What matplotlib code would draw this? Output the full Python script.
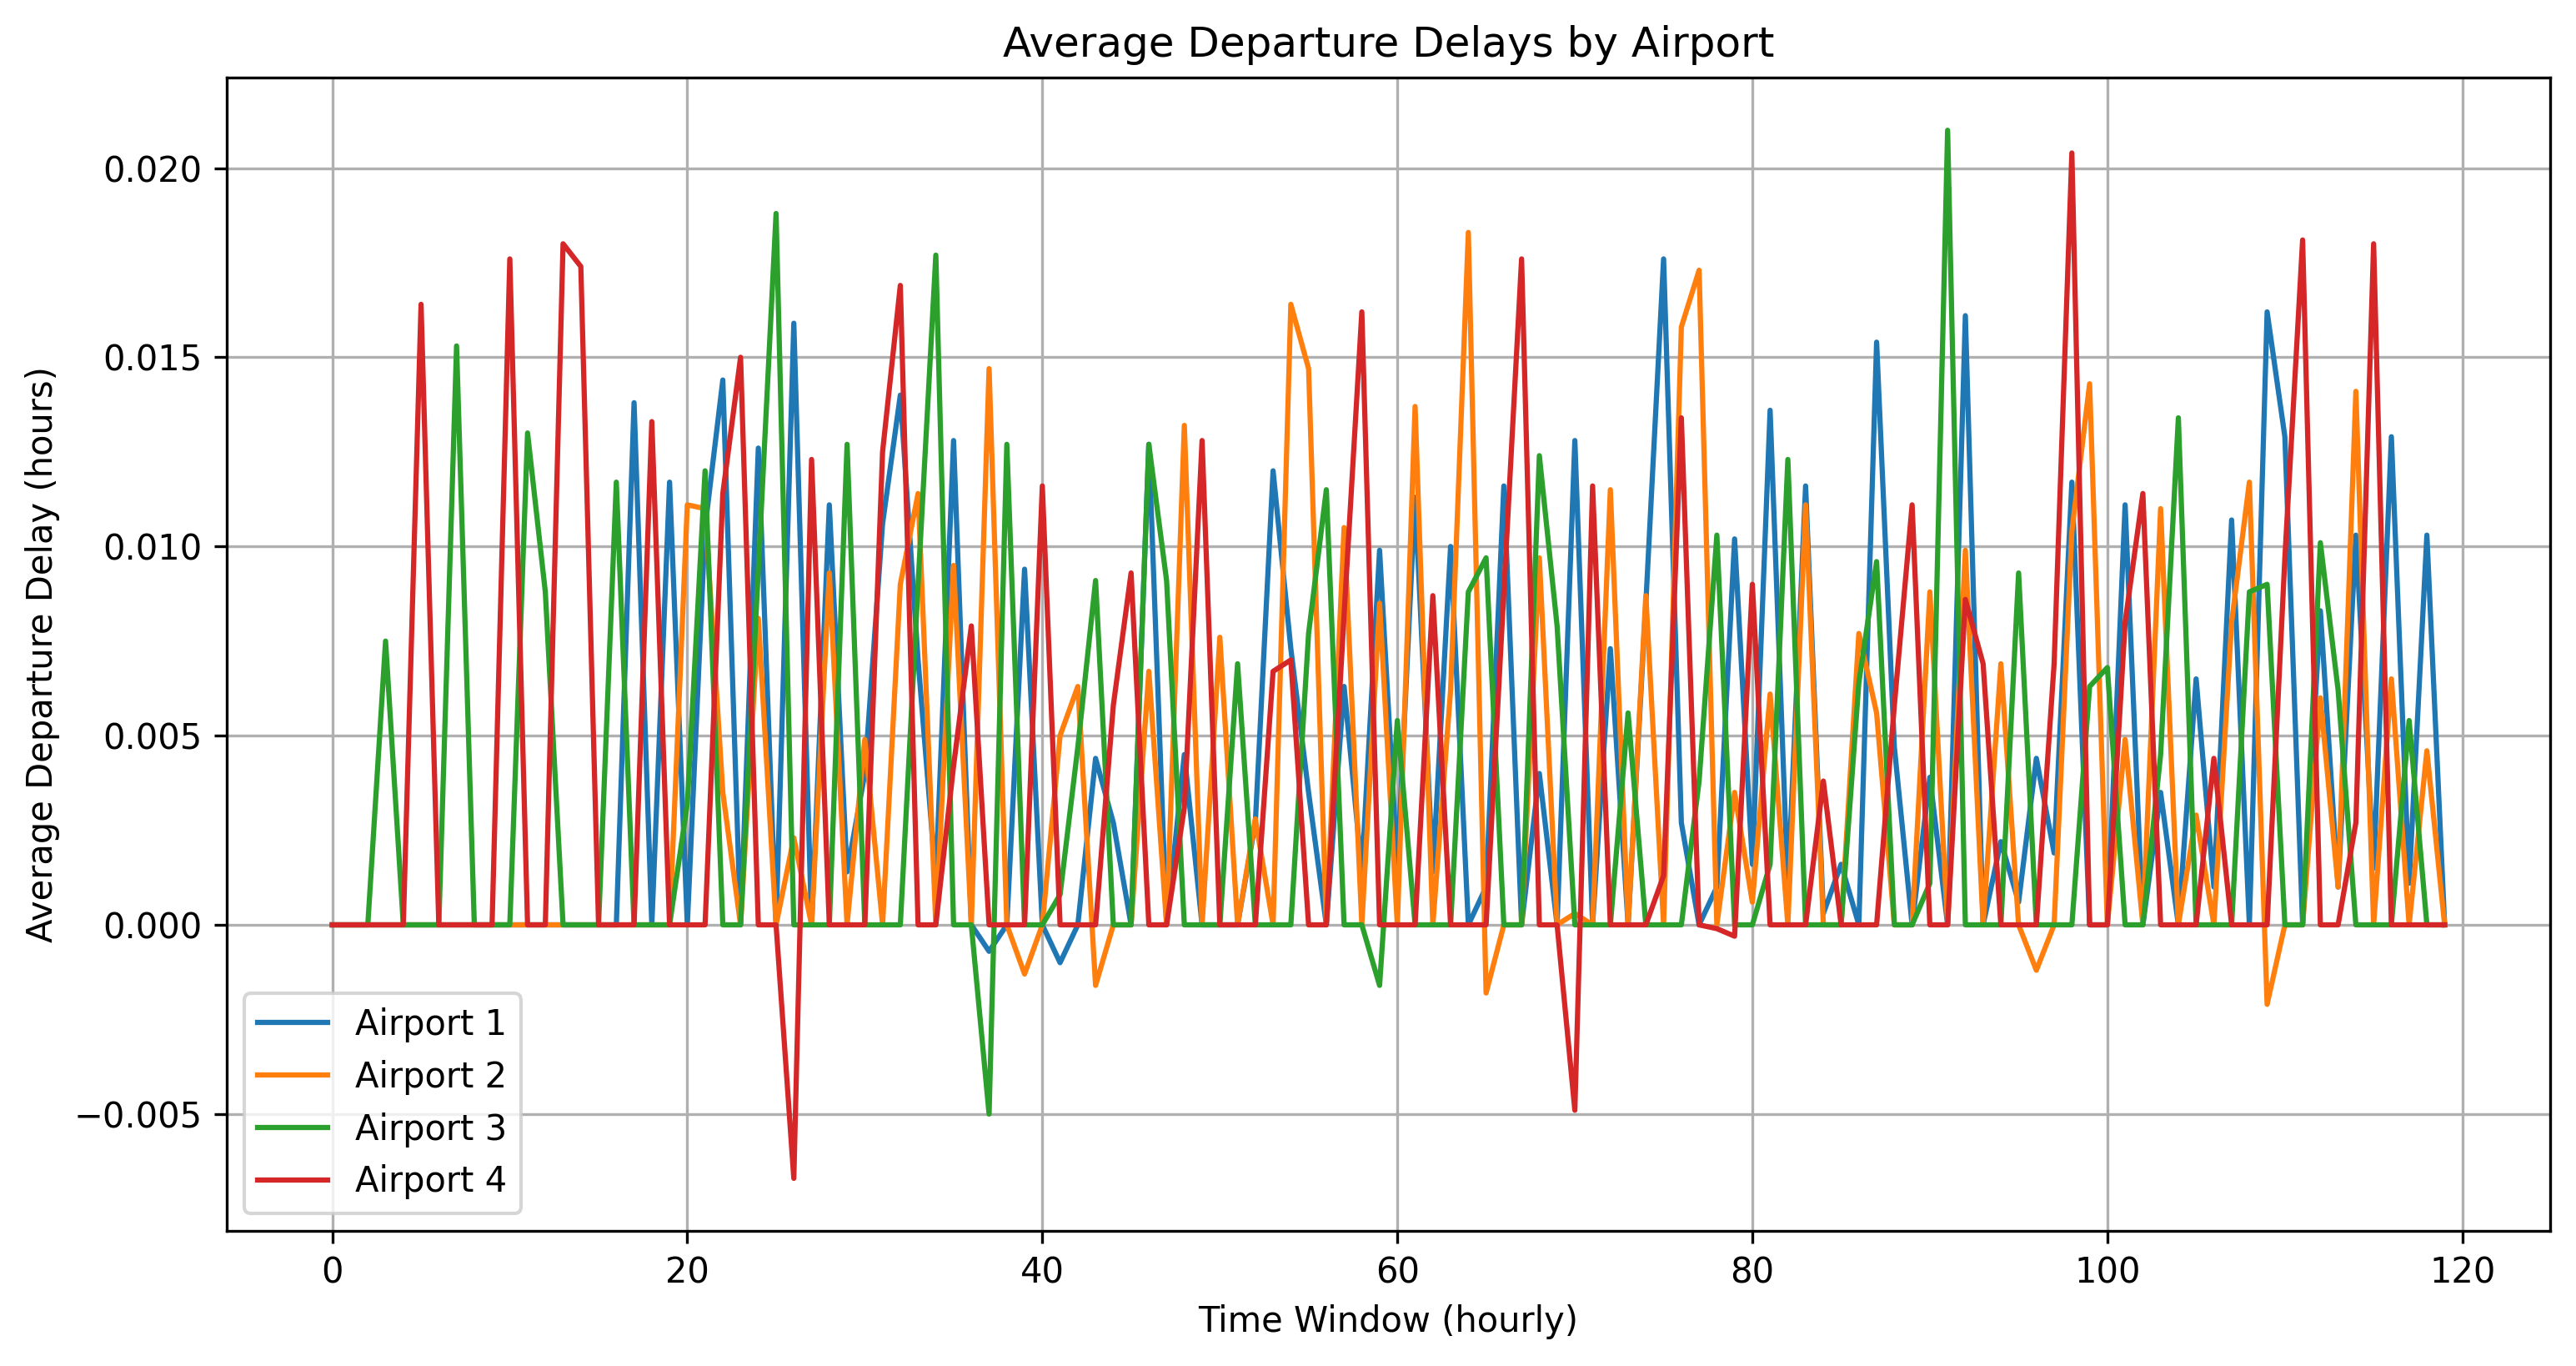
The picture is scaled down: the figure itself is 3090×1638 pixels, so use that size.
import matplotlib.pyplot as plt

# time windows (hourly)
hours = list(range(120))

# average departure delay (hours) per airport
airport_1 = [
    0, 0, 0, 0, 0, 0, 0, 0, 0, 0,
    0, 0, 0, 0, 0, 0, 0, 0.0138, 0, 0.0117,
    0, 0.0105, 0.0144, 0, 0.0126, 0, 0.0159, 0, 0.0111, 0.0014,
    0.0040, 0.0106, 0.0140, 0.0070, 0.0012, 0.0128, 0, -0.0007, 0, 0.0094,
    0, -0.0010, 0, 0.0044, 0.0027, 0, 0.0127, 0, 0.0045, 0,
    0, 0, 0.0027, 0.0120, 0.0073, 0.0035, 0, 0.0063, 0.0014, 0.0099,
    0.0015, 0.0113, 0.0014, 0.0100, 0, 0.0010, 0.0116, 0, 0.0040, 0,
    0.0128, 0, 0.0073, 0, 0.0085, 0.0176, 0.0027, 0, 0.0010, 0.0102,
    0.0016, 0.0136, 0.0010, 0.0116, 0.0003, 0.0016, 0, 0.0154, 0.0047, 0,
    0.0039, 0, 0.0161, 0, 0.0022, 0.0006, 0.0044, 0.0019, 0.0117, 0,
    0, 0.0111, 0, 0.0035, 0, 0.0065, 0.0010, 0.0107, 0, 0.0162,
    0.0129, 0, 0.0083, 0.0010, 0.0103, 0.0015, 0.0129, 0.0011, 0.0103, 0,
]
airport_2 = [
    0, 0, 0, 0, 0, 0, 0, 0, 0, 0,
    0, 0, 0, 0, 0, 0, 0, 0, 0, 0,
    0.0111, 0.0110, 0.0035, 0, 0.0081, 0, 0.0023, 0, 0.0093, 0,
    0.0049, 0, 0.0090, 0.0114, 0, 0.0095, 0, 0.0147, 0, -0.0013,
    0, 0.0050, 0.0063, -0.0016, 0, 0, 0.0067, 0, 0.0132, 0,
    0.0076, 0, 0.0028, 0, 0.0164, 0.0147, 0, 0.0105, 0, 0.0085,
    0, 0.0137, 0, 0.0062, 0.0183, -0.0018, 0, 0, 0.0097, 0,
    0.0003, 0, 0.0115, 0, 0.0087, 0, 0.0158, 0.0173, 0, 0.0035,
    0.0006, 0.0061, 0, 0.0111, 0, 0, 0.0077, 0.0056, 0, 0,
    0.0088, 0, 0.0099, 0, 0.0069, 0, -0.0012, 0, 0.0104, 0.0143,
    0, 0.0049, 0, 0.0110, 0, 0.0029, 0, 0.0080, 0.0117, -0.0021,
    0, 0, 0.0060, 0.0010, 0.0141, 0, 0.0065, 0, 0.0046, 0,
]
airport_3 = [
    0, 0, 0, 0.0075, 0, 0, 0, 0.0153, 0, 0,
    0, 0.0130, 0.0088, 0, 0, 0, 0.0117, 0, 0, 0,
    0.0032, 0.0120, 0, 0, 0.0094, 0.0188, 0, 0, 0, 0.0127,
    0, 0, 0, 0.0090, 0.0177, 0, 0, -0.0050, 0.0127, 0,
    0, 0.0008, 0.0047, 0.0091, 0, 0, 0.0127, 0.0091, 0, 0,
    0, 0.0069, 0, 0, 0, 0.0077, 0.0115, 0, 0, -0.0016,
    0.0054, 0, 0, 0, 0.0088, 0.0097, 0, 0, 0.0124, 0.0079,
    0, 0, 0, 0.0056, 0, 0, 0, 0.0038, 0.0103, 0,
    0, 0.0016, 0.0123, 0, 0, 0, 0.0064, 0.0096, 0, 0,
    0.0011, 0.0210, 0, 0, 0, 0.0093, 0, 0, 0, 0.0063,
    0.0068, 0, 0, 0.0045, 0.0134, 0, 0, 0, 0.0088, 0.0090,
    0, 0, 0.0101, 0.0062, 0, 0, 0, 0.0054, 0, 0,
]
airport_4 = [
    0, 0, 0, 0, 0, 0.0164, 0, 0, 0, 0,
    0.0176, 0, 0, 0.0180, 0.0174, 0, 0, 0, 0.0133, 0,
    0, 0, 0.0114, 0.0150, 0, 0, -0.0067, 0.0123, 0, 0,
    0, 0.0125, 0.0169, 0, 0, 0.0042, 0.0079, 0, 0, 0,
    0.0116, 0, 0, 0, 0.0058, 0.0093, 0, 0, 0.0031, 0.0128,
    0, 0, 0, 0.0067, 0.0070, 0, 0, 0.0082, 0.0162, 0,
    0, 0, 0.0087, 0, 0, 0, 0.0088, 0.0176, 0, 0,
    -0.0049, 0.0116, 0, 0, 0, 0.0013, 0.0134, 0, -0.0001, -0.0003,
    0.0090, 0, 0, 0, 0.0038, 0, 0, 0, 0.0058, 0.0111,
    0, 0, 0.0086, 0.0069, 0, 0, 0, 0.0069, 0.0204, 0,
    0, 0.0080, 0.0114, 0, 0, 0, 0.0044, 0, 0, 0,
    0.0097, 0.0181, 0, 0, 0.0027, 0.0180, 0, 0, 0, 0,
]

series = [airport_1, airport_2, airport_3, airport_4]
labels = ['Airport 1', 'Airport 2', 'Airport 3', 'Airport 4']

fig = plt.figure(figsize=(10.3, 5.46), dpi=300)
ax = fig.add_subplot(111)
fig.subplots_adjust(left=0.088, right=0.990, top=0.943, bottom=0.099)

for values, label in zip(series, labels):
    ax.plot(hours, values, label=label)

ax.set_title('Average Departure Delays by Airport')
ax.set_xlabel('Time Window (hourly)')
ax.set_ylabel('Average Departure Delay (hours)')
ax.legend(loc='lower left')
ax.grid(True)

fig.savefig('out.png', dpi=300)
